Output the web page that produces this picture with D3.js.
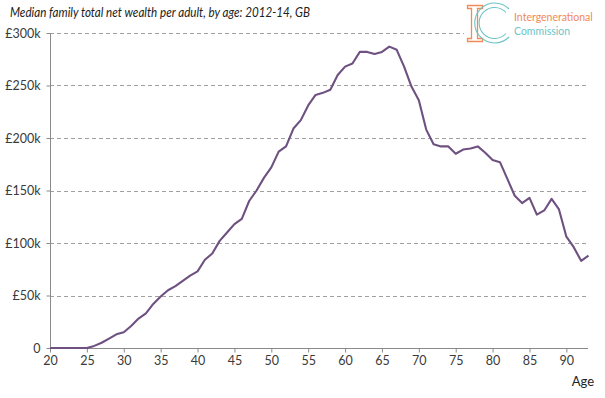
<!DOCTYPE html>
<html><head><meta charset="utf-8">
<script src="https://cdn.jsdelivr.net/npm/d3@7"></script>
<style>body{margin:0;background:#fff;}svg{display:block;}text{font-family:Lato,"Open Sans",sans-serif;}</style>
</head><body>
<svg id="c" width="605" height="398"></svg>
<script>
const ages = [20,21,22,23,24,25,26,27,28,29,30,31,32,33,34,35,36,37,38,39,40,41,42,43,44,45,46,47,48,49,50,51,52,53,54,55,56,57,58,59,60,61,62,63,64,65,66,67,68,69,70,71,72,73,74,75,76,77,78,79,80,81,82,83,84,85,86,87,88,89,90,91,92,93];
const wealth = [0,0,0,0,0,0,2,5,9,13,15,21,28,33,42,49,55,59,64,69,73,84,90,102,110,118,123,140,150,162,172,187,192,209,217,231,241,243,246,260,268,271,282,282,280,282,287,284,268,249,236,208,194,192,192,185,189,190,192,186,179,177,161,145,138,143,127,131,142,132,106,96,83,88];
const yTicks = [0,50000,100000,150000,200000,250000,300000];
const yTickLabels = ["0","£50k","£100k","£150k","£200k","£250k","£300k"];
const xTicks = [20,25,30,35,40,45,50,55,60,65,70,75,80,85,90];

const svg = d3.select("#c");
const x = d3.scaleLinear().domain([20,93]).range([50,588.5]);
const y = d3.scaleLinear().domain([0,300000]).range([348,33]);

// gridlines
svg.append("g").selectAll("line").data(yTicks.filter(d=>d>0)).join("line")
  .attr("x1",50).attr("x2",588).attr("y1",d=>Math.round(y(d))+0.5).attr("y2",d=>Math.round(y(d))+0.5)
  .attr("stroke","#a0a0a0").attr("stroke-width",1).attr("stroke-dasharray","4,3");

// y axis
const ya = svg.append("g").attr("transform","translate(50.5,0)")
  .call(d3.axisLeft(y).tickValues(yTicks).tickFormat((d,i)=>yTickLabels[i]).tickSize(4).tickPadding(6));
ya.select(".domain").attr("stroke","#8a8a8a").attr("d","M0,348V33");
ya.selectAll(".tick line").attr("stroke","#8a8a8a");
ya.selectAll("text").attr("font-size","12.5px").attr("fill","#3a3a3a").style("font-family","Lato,sans-serif");

// x axis
const xa = svg.append("g").attr("transform","translate(0,348.5)")
  .call(d3.axisBottom(x).tickValues(xTicks).tickSize(4).tickPadding(4));
xa.select(".domain").attr("stroke","#8a8a8a").attr("d","M50,0H588");
xa.selectAll(".tick line").attr("stroke","#8a8a8a");
xa.selectAll("text").attr("font-size","12.5px").attr("fill","#3a3a3a").style("font-family","Lato,sans-serif");

svg.append("text").attr("x",594).attr("y",386).attr("text-anchor","end")
  .attr("font-size","13px").attr("fill","#222").text("Age");

// line
const line = d3.line().x((d,i)=>x(ages[i])).y(d=>y(d*1000));
svg.append("path").datum(wealth).attr("d",line).attr("fill","none")
  .attr("stroke","#6e5180").attr("stroke-width",2.1).attr("stroke-linejoin","round");

// title
svg.append("text").attr("x",10).attr("y",17).attr("font-size","12.5px").attr("font-style","italic")
  .attr("fill","#222").attr("textLength",300).attr("lengthAdjust","spacingAndGlyphs")
  .text("Median family total net wealth per adult, by age: 2012-14, GB");

// logo
const lg = svg.append("g");
lg.append("rect").attr("x",464).attr("y",0).attr("width",141).attr("height",46).attr("fill","#fff");
const orange="#f08a5a", teal="#6cc3c6";
lg.append("path").attr("d","M467.5,5.5H482.5V8.5H477.5V38.5H482.5V41.5H467.5V38.5H471.5V8.5H467.5Z").attr("fill","none").attr("stroke",orange).attr("stroke-width",1.3);
lg.append("path").attr("d","M509,9 A20,20 0 1 0 509,37").attr("fill","none").attr("stroke",teal).attr("stroke-width",1.1);
lg.append("path").attr("d","M506,12.5 A15.5,15.5 0 1 0 506,33.5").attr("fill","none").attr("stroke",teal).attr("stroke-width",1.1);
lg.append("text").attr("x",514).attr("y",21).attr("font-size","10.5px").attr("fill",orange).text("Intergenerational");
lg.append("text").attr("x",514).attr("y",35).attr("font-size","10.5px").attr("fill",teal).text("Commission");
</script>
</body></html>
